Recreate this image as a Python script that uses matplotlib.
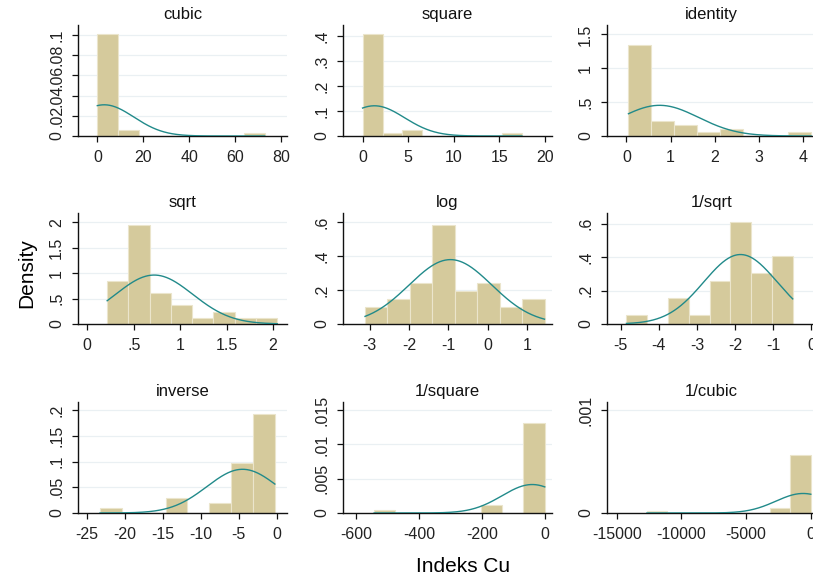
import numpy as np
import matplotlib
matplotlib.use("Agg")
import matplotlib.pyplot as plt

plt.rcParams["font.family"] = ["Liberation Sans", "DejaVu Sans"]

# ladder of powers for Indeks Cu, 36 observations, 8 bins per panel
n_obs = 36
titles = ["cubic", "square", "identity", "sqrt", "log", "1/sqrt",
          "inverse", "1/square", "1/cubic"]
x_min = [0.0, 0.0, 0.046, 0.214, -3.12, -4.85, -23.3, -543.0, -12666.0]
x_max = [72.8, 17.5, 4.18, 2.045, 1.44, -0.49, -0.24, -0.057, -0.014]
counts = [
    [33, 2, 0, 0, 0, 0, 0, 1],
    [32, 1, 2, 0, 0, 0, 0, 1],
    [25, 4, 3, 1, 2, 0, 0, 1],
    [7, 16, 5, 3, 1, 2, 1, 1],
    [2, 3, 5, 12, 4, 5, 2, 3],
    [1, 0, 3, 1, 5, 12, 6, 8],
    [1, 0, 0, 3, 0, 2, 10, 20],
    [1, 0, 0, 0, 0, 3, 0, 32],
    [1, 0, 0, 0, 0, 0, 3, 32],
]
means = [3.0, 1.3, 0.75, 0.72, -0.95, -1.86, -4.5, -40.0, -600.0]
sds = [12.9, 3.3, 0.88, 0.415, 1.05, 0.96, 4.69, 96.0, 2100.0]

x_ticks = [
    [0, 20, 40, 60, 80],
    [0, 5, 10, 15, 20],
    [0, 1, 2, 3, 4],
    [0, 0.5, 1, 1.5, 2],
    [-3, -2, -1, 0, 1],
    [-5, -4, -3, -2, -1, 0],
    [-25, -20, -15, -10, -5, 0],
    [-600, -400, -200, 0],
    [-15000, -10000, -5000, 0],
]
y_ticks = [
    [0, 0.02, 0.04, 0.06, 0.08, 0.1],
    [0, 0.1, 0.2, 0.3, 0.4],
    [0, 0.5, 1, 1.5],
    [0, 0.5, 1, 1.5, 2],
    [0, 0.2, 0.4, 0.6],
    [0, 0.2, 0.4, 0.6],
    [0, 0.05, 0.1, 0.15, 0.2],
    [0, 0.005, 0.01, 0.015],
    [0, 0.001],
]
x_lims = [(-8.4, 82.5), (-2.15, 20.8), (-0.44, 4.29), (-0.1, 2.15),
          (-3.68, 1.63), (-5.36, 0.12), (-26.2, 1.36), (-642, 23),
          (-15750, 400)]
y_tops = [0.11, 0.444, 1.64, 2.18, 0.655, 0.664, 0.216, 0.0162, 0.00108]


def stata_fmt(v):
    s = f"{v:g}"
    if s.startswith("0."):
        s = s[1:]
    elif s.startswith("-0."):
        s = "-" + s[2:]
    return s


W, H = 813, 581
fig = plt.figure(figsize=(W / 100, H / 100), dpi=100)

lefts = [78, 343, 607]
tops = [25, 213, 402]
aw, ah = 209, 111

bar_color = "#d5ca9c"
line_color = "#218a8a"

for i in range(9):
    r, c = divmod(i, 3)
    ax = fig.add_axes([lefts[c] / W, 1 - (tops[r] + ah) / H, aw / W, ah / H])
    edges = np.linspace(x_min[i], x_max[i], len(counts[i]) + 1)
    width = edges[1] - edges[0]
    dens = np.array(counts[i]) / (n_obs * width)
    ax.bar(edges[:-1], dens, width=width, align="edge", color=bar_color,
           edgecolor="#ebe5cc", linewidth=0.8, zorder=2)
    xs = np.linspace(x_min[i], x_max[i], 400)
    ys = np.exp(-0.5 * ((xs - means[i]) / sds[i]) ** 2) / (sds[i] * np.sqrt(2 * np.pi))
    ax.plot(xs, ys, color=line_color, lw=1.0, zorder=3)

    ax.set_xlim(*x_lims[i])
    ax.set_ylim(0, y_tops[i])
    ax.set_xticks(x_ticks[i])
    ax.set_xticklabels([stata_fmt(v) for v in x_ticks[i]], fontsize=11.5, color="#222222")
    ax.set_yticks(y_ticks[i])
    ax.set_yticklabels([stata_fmt(v) for v in y_ticks[i]], fontsize=11.5,
                       rotation=90, va="center", color="#222222")
    for yv in y_ticks[i][1:]:
        ax.axhline(yv, color="#eaf0f3", lw=0.9, zorder=1)
    ax.spines["top"].set_visible(False)
    ax.spines["right"].set_visible(False)
    for s in ("left", "bottom"):
        ax.spines[s].set_linewidth(1.0)
        ax.spines[s].set_color("#111111")
    ax.tick_params(direction="out", length=4, width=0.9, color="#111111", pad=6)
    ax.set_title(titles[i], fontsize=12, pad=4, color="#111111")

fig.text(27 / W, 1 - 273 / H, "Density", rotation=90, fontsize=15,
         ha="center", va="center")
fig.text(463 / W, 1 - 566 / H, "Indeks Cu", fontsize=15,
         ha="center", va="center")

fig.savefig("out.png", dpi=100, facecolor="white")
